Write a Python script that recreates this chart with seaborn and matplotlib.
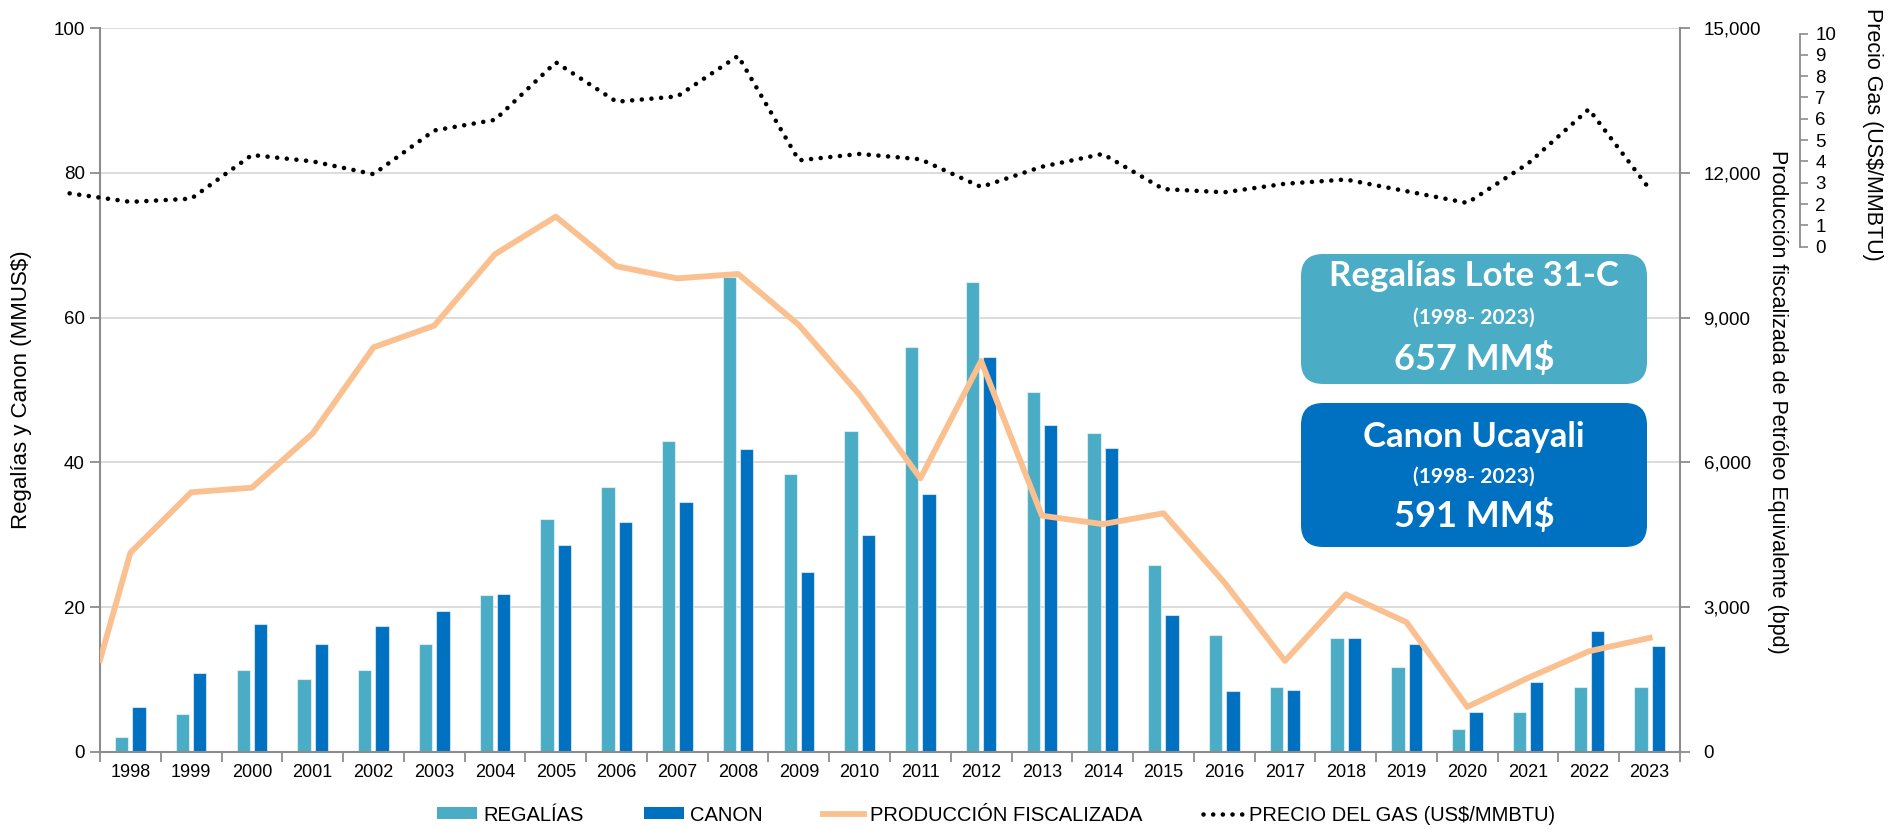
import numpy as np
import pandas as pd
import matplotlib
matplotlib.use("Agg")
import matplotlib.pyplot as plt
import seaborn as sns
from matplotlib.patches import FancyBboxPatch, Patch
from matplotlib.lines import Line2D
from matplotlib.ticker import FuncFormatter

# ---------------- data ----------------
years = [str(y) for y in range(1998, 2024)]
regalias = [2.0, 5.2, 11.3, 10.05, 11.3, 14.9, 21.7, 32.1, 36.6, 43.0, 65.6, 38.4, 44.3,
            56.0, 64.9, 49.7, 44.0, 25.8, 16.1, 9.0, 15.7, 11.7, 3.2, 5.5, 8.9, 8.9]
canon = [6.13, 10.9, 17.65, 14.9, 17.4, 19.5, 21.75, 28.6, 31.8, 34.5, 41.9, 24.8, 29.9,
         35.6, 54.5, 45.2, 42.0, 18.9, 8.4, 8.5, 15.7, 14.9, 5.5, 9.7, 16.7, 14.6]
produccion_inicio = 1900  # value where the line enters the plot at its left edge
produccion = [4125, 5378, 5474, 6600, 8383, 8834, 10315, 11093, 10064, 9813, 9905, 8847, 7397,
              5668, 8101, 4893, 4718, 4943, 3512, 1883, 3262, 2685, 929, 1530, 2082, 2360]
precio_gas_1997 = 2.5
precio_gas = [2.1, 2.25, 4.3, 4.0, 3.4, 5.45, 5.95, 8.65, 6.8, 7.05, 8.95, 4.05, 4.35,
              4.1, 2.8, 3.75, 4.35, 2.7, 2.55, 2.95, 3.15, 2.6, 2.05, 3.9, 6.45, 2.7]
serie_labels = ["REGALÍAS", "CANON", "PRODUCCIÓN FISCALIZADA", "PRECIO DEL GAS (US$/MMBTU)"]
box_reg = ["Regalías Lote 31-C", "(1998- 2023)", "657 MM$"]
box_can = ["Canon Ucayali", "(1998- 2023)", "591 MM$"]

C_REG = "#4BACC6"
C_CAN = "#0070C0"
C_ORA = "#FAC090"
C_AX = "#8C8C8C"

plt.rcParams["font.family"] = ["Liberation Sans", "DejaVu Sans"]

W, H = 1898, 830
fig = plt.figure(figsize=(W / 100, H / 100), dpi=100)


def fx(px):
    return px / W


def fy(py):
    return 1 - py / H


L, R, T, B = 100, 1680, 28.2, 751.7
ax = fig.add_axes([fx(L), fy(B), (R - L) / W, (B - T) / H])

df = pd.DataFrame({
    "Año": years * 2,
    "Serie": [serie_labels[0]] * len(years) + [serie_labels[1]] * len(years),
    "Valor": regalias + canon,
})
sns.barplot(data=df, x="Año", y="Valor", hue="Serie", order=years,
            hue_order=serie_labels[:2],
            palette={serie_labels[0]: C_REG, serie_labels[1]: C_CAN},
            saturation=1, width=0.57, gap=0.23, ax=ax, legend=False,
            edgecolor=(1, 1, 1, 0.55), linewidth=0.8, err_kws={"linewidth": 0})
ax.set_xlim(-0.5, len(years) - 0.5)
ax.set_ylim(0, 100)
ax.set_yticks(np.arange(0, 101, 20))
ax.yaxis.grid(True, color="#D9D9D9", lw=1.3)
ax.set_axisbelow(True)
ax.set_xlabel("")
ax.set_ylabel("Regalías y Canon (MMUS$)", fontsize=16, rotation=90, va="center", ha="center")
ax.yaxis.set_label_coords(-0.0494, 0.5)
# category boundaries as ticks, labels at the centers
ax.set_xticks(np.arange(-0.5, len(years), 1))
ax.set_xticklabels([])
ax.set_xticks(np.arange(len(years)), minor=True)
ax.set_xticklabels(years, minor=True)
ax.tick_params(axis="x", which="major", length=7, width=1.3, color=C_AX, direction="out")
ax.tick_params(axis="x", which="minor", length=0, pad=9, labelsize=13)
ax.tick_params(axis="y", length=7, width=1.3, color=C_AX, labelsize=13.5, pad=4)
for s in ["top", "right"]:
    ax.spines[s].set_visible(False)
for s in ["left", "bottom"]:
    ax.spines[s].set_color(C_AX)
    ax.spines[s].set_linewidth(1.5)

# ---------- production axis ----------
axp = ax.twinx()
x0 = ax.get_xlim()[0]
prod_x = np.concatenate([[x0], np.arange(len(years))])
prod_y = [produccion_inicio] + produccion
sns.lineplot(x=prod_x, y=prod_y, ax=axp, color=C_ORA, lw=4.2, sort=False)
axp.set_ylim(0, 15000)
axp.set_yticks(np.arange(0, 15001, 3000))
axp.yaxis.set_major_formatter(FuncFormatter(lambda v, p: f"{int(v):,}"))
axp.tick_params(axis="y", length=7, width=1.3, color=C_AX, labelsize=13.5, pad=10)
axp.set_ylabel("Producción fiscalizada de Petróleo Equivalente (bpd)", fontsize=15.5,
               rotation=270, va="center", ha="center")
axp.yaxis.set_label_coords((1777 - L) / (R - L), (B - 402) / (B - T))
for s in ["top", "left", "bottom"]:
    axp.spines[s].set_visible(False)
axp.spines["right"].set_color(C_AX)
axp.spines["right"].set_linewidth(1.5)

# ---------- gas price axis ----------
axg = ax.twinx()
gas_x = np.arange(-1, len(years))
gas_y = [precio_gas_1997] + precio_gas
sns.lineplot(x=gas_x, y=gas_y, ax=axg, color="black", lw=3.3, sort=False,
             linestyle=(0, (0.01, 2.1)), dash_capstyle="round")
for ln in axg.lines:
    ln.set_clip_on(False)
axg.set_ylim(-23.7, 10.25)
axg.set_yticks(np.arange(0, 11, 1))
axg.spines["right"].set_position(("axes", (1800 - L) / (R - L)))
axg.spines["right"].set_bounds(0, 10)
axg.spines["right"].set_color(C_AX)
axg.spines["right"].set_linewidth(1.3)
for s in ["top", "left", "bottom"]:
    axg.spines[s].set_visible(False)
axg.tick_params(axis="y", length=6, width=1.2, color=C_AX, labelsize=13.5, pad=5)
axg.set_ylabel("Precio Gas (US$/MMBTU)", fontsize=15.5, rotation=270, va="center", ha="center")
axg.yaxis.set_label_coords((1872 - L) / (R - L), (B - 134) / (B - T))

ax.set_xlim(-0.5, len(years) - 0.5)

# ---------- summary boxes ----------
def box(top, bottom, color, lines, ys):
    p = FancyBboxPatch((1301 / 100, (H - bottom) / 100), 346 / 100, (bottom - top) / 100,
                       boxstyle="round,pad=0,rounding_size=0.22",
                       transform=fig.dpi_scale_trans, facecolor=color, edgecolor="none",
                       zorder=10)
    fig.add_artist(p)
    sizes = [25, 15, 26]
    for txt, yy, sz in zip(lines, ys, sizes):
        fig.text(fx(1474), fy(yy), txt, ha="center", va="center", color="white",
                 fontsize=sz, fontweight="bold", family=["Lato", "DejaVu Sans"], zorder=11)


box(254, 384, C_REG, box_reg, [276, 318, 358])
box(403, 547, C_CAN, box_can, [437, 477, 516])

# ---------- legend ----------
handles = [
    Patch(facecolor=C_REG, edgecolor="none"),
    Patch(facecolor=C_CAN, edgecolor="none"),
    Line2D([], [], color=C_ORA, lw=4.2),
    Line2D([], [], color="black", lw=3.3, linestyle=(0, (0.01, 2.1)), dash_capstyle="round"),
]
fig.legend(handles, serie_labels, loc="center", bbox_to_anchor=(fx(996), fy(815)), ncol=4,
           frameon=False, fontsize=14.5, handlelength=2.0, handleheight=0.55,
           columnspacing=3.0, handletextpad=0.3)

fig.savefig("out.png", dpi=100)
